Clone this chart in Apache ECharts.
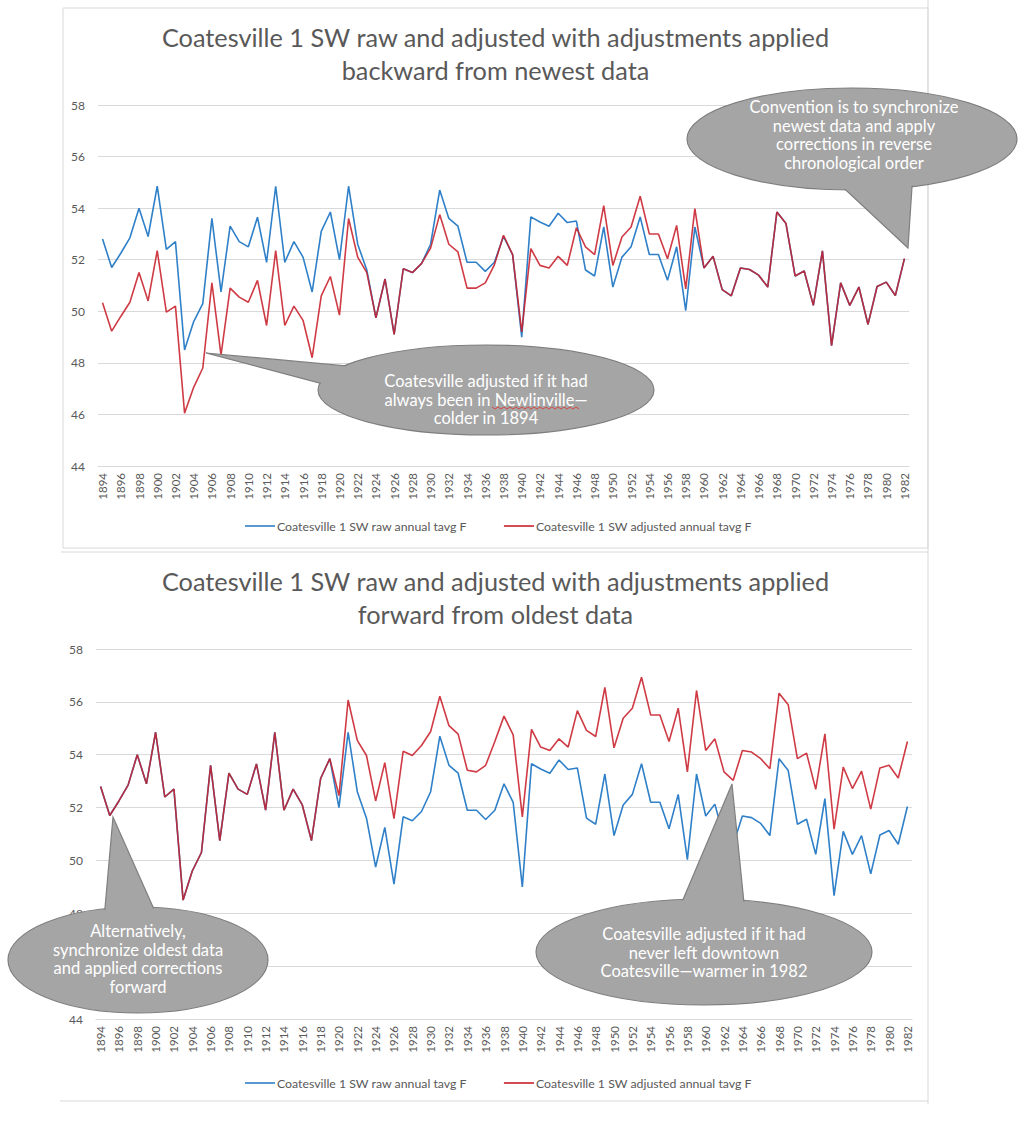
<!DOCTYPE html>
<html>
<head>
<meta charset="utf-8">
<script src="https://cdn.jsdelivr.net/npm/echarts@6/dist/echarts.min.js"></script>
<style>
html,body{margin:0;padding:0;background:#ffffff;}
#chart{width:1020px;height:1139px;}
</style>
</head>
<body>
<div id="chart"></div>
<script>
// ---------- data ----------
const years = [];
for (let y = 1894; y <= 1982; y++) years.push(String(y));

const yMin = 44, yMax = 58, yStep = 2;

const rawName = 'Coatesville 1 SW raw annual tavg F';
const adjName = 'Coatesville 1 SW adjusted annual tavg F';

const titleTopLines = ['Coatesville 1 SW raw and adjusted with adjustments applied', 'backward from newest data'];
const titleBottomLines = ['Coatesville 1 SW raw and adjusted with adjustments applied', 'forward from oldest data'];

// raw annual average temperature (F), 1894..1982
const rawTavg = [
  52.8, 51.7, 52.25, 52.85, 54.0, 52.9, 54.85, 52.4, 52.7, 48.5,
  49.6, 50.3, 53.6, 50.75, 53.3, 52.7, 52.5, 53.65, 51.9, 54.85,
  51.9, 52.7, 52.1, 50.75, 53.1, 53.85, 52.0, 54.85, 52.6, 51.6,
  49.75, 51.25, 49.1, 51.65, 51.5, 51.85, 52.6, 54.7, 53.6, 53.3,
  51.9, 51.9, 51.55, 51.9, 52.9, 52.2, 49.0, 53.66, 53.46, 53.3,
  53.8, 53.44, 53.5, 51.6, 51.37, 53.27, 50.94, 52.1, 52.5, 53.66,
  52.2, 52.2, 51.2, 52.5, 50.03, 53.27, 51.68, 52.13, 50.84, 50.6,
  51.68, 51.62, 51.4, 50.94, 53.85, 53.4, 51.37, 51.56, 50.23, 52.34,
  48.67, 51.1, 50.23, 50.94, 49.49, 50.96, 51.13, 50.61, 52.04
];

// adjusted, adjustments applied backward from newest data
const adjBackward = [
  50.33, 49.23, 49.8, 50.35, 51.5, 50.4, 52.35, 49.97, 50.2, 46.05,
  47.05, 47.8, 51.1, 48.3, 50.9, 50.55, 50.35, 51.2, 49.45, 52.35,
  49.45, 50.2, 49.65, 48.2, 50.6, 51.35, 49.85, 53.6, 52.1, 51.5,
  49.75, 51.25, 49.1, 51.65, 51.5, 51.85, 52.45, 53.75, 52.6, 52.3,
  50.9, 50.9, 51.1, 51.8, 52.95, 52.2, 49.2, 52.43, 51.78, 51.68,
  52.13, 51.78, 53.24, 52.5, 52.2, 54.1, 51.78, 52.88, 53.27, 54.46,
  53.0, 53.0, 52.04, 53.33, 50.87, 53.98, 51.68, 52.13, 50.84, 50.6,
  51.68, 51.62, 51.4, 50.94, 53.85, 53.4, 51.37, 51.56, 50.23, 52.34,
  48.67, 51.1, 50.23, 50.94, 49.49, 50.96, 51.13, 50.61, 52.04
];

// adjusted, adjustments applied forward from oldest data
const adjForward = [
  52.8, 51.7, 52.25, 52.85, 54.0, 52.9, 54.85, 52.4, 52.7, 48.5,
  49.6, 50.3, 53.6, 50.75, 53.3, 52.7, 52.5, 53.65, 51.9, 54.85,
  51.9, 52.7, 52.1, 50.75, 53.1, 53.85, 52.45, 56.07, 54.54, 53.97,
  52.25, 53.7, 51.58, 54.13, 53.97, 54.35, 54.88, 56.21, 55.1, 54.78,
  53.41, 53.35, 53.6, 54.5, 55.46, 54.75, 51.65, 54.96, 54.29, 54.16,
  54.6, 54.29, 55.67, 54.92, 54.69, 56.55, 54.26, 55.38, 55.76, 56.93,
  55.5, 55.5, 54.5, 55.76, 53.35, 56.43, 54.16, 54.6, 53.35, 53.03,
  54.16, 54.1, 53.85, 53.47, 56.33, 55.89, 53.85, 54.06, 52.69, 54.79,
  51.18, 53.53, 52.72, 53.38, 51.94, 53.5, 53.6, 53.12, 54.5
];

// y-axis tick labels that the bottom-left callout hides in the reference
const bottomHiddenTicks = [46];

const calloutTexts = {
  newlin: ['Coatesville adjusted if it had', 'always been in Newlinville\u2014', 'colder in 1894'],
  convention: ['Convention is to synchronize', 'newest data and apply', 'corrections in reverse', 'chronological order'],
  alternative: ['Alternatively,', 'synchronize oldest data', 'and applied corrections', 'forward'],
  downtown: ['Coatesville adjusted if it had', 'never left downtown', 'Coatesville\u2014warmer in 1982']
};

// ---------- styling ----------
const FONT = 'Lato, "Open Sans", sans-serif';
const BLUE = '#2f80c8';
const RED = '#c8202b';
const GRID = '#d9d9d9';
const TXT = '#595959';
const CALL_FILL = '#a5a5a5';
const CALL_STROKE = '#7f7f7f';

function xAxisFor(gi) {
  return {
    type: 'category', gridIndex: gi, data: years, boundaryGap: true,
    axisTick: {show: false},
    axisLine: {show: true, lineStyle: {color: GRID, width: 1}},
    axisLabel: {rotate: 90, interval: 1, fontSize: 11.5, color: TXT, margin: 7, fontFamily: FONT}
  };
}
function yAxisFor(gi, hidden) {
  return {
    type: 'value', gridIndex: gi, min: yMin, max: yMax, interval: yStep,
    axisLine: {show: false}, axisTick: {show: false},
    splitLine: {lineStyle: {color: GRID, width: 1}},
    axisLabel: {fontSize: 12, color: TXT, margin: 13, fontFamily: FONT,
      formatter: function (v) { return hidden.indexOf(v) >= 0 ? '' : String(v); }}
  };
}
function lineSeries(name, data, gi, color, z, opacity) {
  return {
    name: name, type: 'line', data: data, xAxisIndex: gi, yAxisIndex: gi,
    symbol: 'none', smooth: false, z: z, animation: false,
    lineStyle: {color: color, width: 1.6, opacity: opacity},
    itemStyle: {color: color}
  };
}

function expand(tip, p, f) {
  return [tip[0] + (p[0] - tip[0]) * f, tip[1] + (p[1] - tip[1]) * f];
}
function callout(cx, cy, rx, ry, tip, b1, b2, lines, tx, ty) {
  const pts = [tip, expand(tip, b1, 1.18), expand(tip, b2, 1.18)];
  return [
    {type: 'ellipse', z: 100, shape: {cx: cx, cy: cy, rx: rx, ry: ry},
     style: {fill: CALL_FILL, stroke: CALL_STROKE, lineWidth: 1.2}},
    {type: 'polygon', z: 101, shape: {points: pts},
     style: {fill: CALL_FILL, stroke: CALL_STROKE, lineWidth: 1.2}},
    {type: 'ellipse', z: 102, shape: {cx: cx, cy: cy, rx: rx - 0.9, ry: ry - 0.9},
     style: {fill: CALL_FILL, stroke: null}},
    {type: 'text', z: 103, x: tx, y: ty,
     style: {text: lines.join('\n'), fill: '#ffffff', font: '16.5px ' + FONT,
             align: 'center', verticalAlign: 'middle', lineHeight: 18.4}}
  ];
}

function wavy(x0, x1, y) {
  const pts = [];
  let up = true;
  for (let x = x0; x <= x1; x += 3) { pts.push([x, up ? y : y + 2]); up = !up; }
  return {type: 'polyline', z: 104, shape: {points: pts},
          style: {stroke: '#e03030', lineWidth: 0.8, fill: null}};
}

const graphics = [
  // panel frames
  {type: 'rect', z: 0, shape: {x: 63, y: 8, width: 865, height: 540},
   style: {fill: 'none', stroke: GRID, lineWidth: 1}},
  {type: 'line', z: 0, shape: {x1: 61, y1: 552, x2: 928, y2: 552}, style: {stroke: GRID, lineWidth: 1}},
  {type: 'line', z: 0, shape: {x1: 928, y1: 0, x2: 928, y2: 1104}, style: {stroke: GRID, lineWidth: 1}},
  {type: 'line', z: 0, shape: {x1: 60, y1: 1101, x2: 928, y2: 1101}, style: {stroke: GRID, lineWidth: 1}},
  // titles
  {type: 'text', z: 50, x: 495.5, y: 53.5,
   style: {text: titleTopLines.join('\n'), fill: TXT, font: '25.3px ' + FONT,
           align: 'center', verticalAlign: 'middle', lineHeight: 33}},
  {type: 'text', z: 50, x: 495.5, y: 597,
   style: {text: titleBottomLines.join('\n'), fill: TXT, font: '25.3px ' + FONT,
           align: 'center', verticalAlign: 'middle', lineHeight: 33}}
]
.concat(callout(486, 390, 168, 45, [206, 353], [357, 367], [327, 385], calloutTexts.newlin, 486, 399.5))
.concat([wavy(492, 580, 407)])
.concat(callout(852, 139, 165, 51, [908, 248], [848, 192], [912, 187], calloutTexts.convention, 854, 135))
.concat(callout(138, 960, 130, 53, [113, 817], [105, 908], [153, 907], calloutTexts.alternative, 138, 959))
.concat(callout(704, 952, 168, 53, [732, 784], [682, 902], [744, 903], calloutTexts.downtown, 704, 952.5));

const legendCommon = {
  data: [rawName, adjName], left: 240, itemWidth: 30, itemHeight: 14, itemGap: 37,
  selectedMode: false, icon: 'path://M0,0 L30,0 L30,1.6 L0,1.6 Z',
  textStyle: {fontSize: 12.3, color: TXT, fontFamily: FONT, padding: [0, 0, 0, -3]}
};

const option = {
  backgroundColor: '#ffffff',
  animation: false,
  textStyle: {fontFamily: FONT},
  grid: [
    {left: 98, right: 111, top: 105, height: 361, containLabel: false},
    {left: 96, right: 108, top: 649, height: 370, containLabel: false}
  ],
  xAxis: [xAxisFor(0), xAxisFor(1)],
  yAxis: [yAxisFor(0, []), yAxisFor(1, bottomHiddenTicks)],
  legend: [
    Object.assign({}, legendCommon, {top: 515}),
    Object.assign({}, legendCommon, {top: 1072})
  ],
  series: [
    lineSeries(rawName, rawTavg, 0, BLUE, 2, 1),
    lineSeries(adjName, adjBackward, 0, RED, 3, 0.88),
    lineSeries(rawName, rawTavg, 1, BLUE, 2, 1),
    lineSeries(adjName, adjForward, 1, RED, 3, 0.88)
  ],
  graphic: graphics
};

const chart = echarts.init(document.getElementById('chart'), null, {renderer: 'svg'});
chart.setOption(option);
</script>
</body>
</html>
